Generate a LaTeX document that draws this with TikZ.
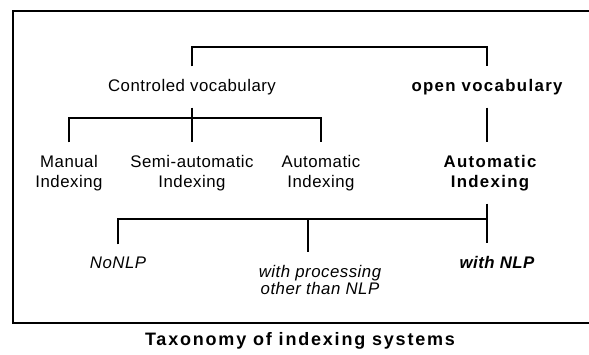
\documentclass[tikz,border=0pt]{standalone}
\usepackage{fontspec}
\setmainfont{Liberation Sans}
\usetikzlibrary{positioning}

\begin{document}
\begin{tikzpicture}[x=0.5pt,y=-0.5pt,line width=0.75pt,
  font=\fontsize{8.4}{10}\selectfont\addfontfeature{LetterSpace=3},
  lbl/.style={align=center,inner xsep=0pt,inner ysep=6pt},
  strong/.style={lbl,font=\fontsize{8.4}{10}\selectfont\bfseries\addfontfeature{LetterSpace=8}},
  slant/.style={lbl,font=\fontsize{8.4}{8.6}\selectfont\itshape\addfontfeature{LetterSpace=3}}]
\useasboundingbox (0,0) rectangle (589,354);
\clip (0,0) rectangle (589,354);
\draw[line width=1.1pt] (13,11) rectangle (600,323);
% first level
\node[lbl] (ctrl) at (192,87) {Controled vocabulary};
\node[strong] (openv) at (487,87) {open vocabulary};
\coordinate (bar0) at (340,47);
\draw (ctrl.north) |- (bar0) -| (openv.north);
% second level
\node[lbl] (man) at (69,173) {Manual\\Indexing};
\node[lbl] (semi) at (192,173) {Semi-automatic\\Indexing};
\node[lbl] (autom) at (321,173) {Automatic\\Indexing};
\node[strong] (autob) at (490,173) {Automatic\\Indexing};
\coordinate (bar1) at (192,118);
\draw (man.north) |- (bar1) -| (autom.north);
\draw (ctrl.south) -- (semi.north);
\draw (openv.south) -- (openv.south |- autob.north);
% third level
\node[slant] (nonlp) at (118,263) {NoNLP};
\node[slant] (other) at (320,280) {with processing\\other than NLP};
\node[slant,font=\fontsize{8.4}{10}\selectfont\bfseries\itshape\addfontfeature{LetterSpace=3}] (withnlp) at (497,262) {with NLP};
\coordinate (bar2) at (308,219);
\coordinate (drop) at (openv.south |- autob.south);
\draw (nonlp.north) |- (bar2) -| (drop);
\draw (bar2) -- (bar2 |- other.north);
\draw (drop) -- (drop |- withnlp.north);
% caption
\node[strong,font=\fontsize{9}{10}\selectfont\bfseries\addfontfeature{LetterSpace=10}] (cap) at (300,341) {Taxonomy of indexing systems};
\end{tikzpicture}
\end{document}
